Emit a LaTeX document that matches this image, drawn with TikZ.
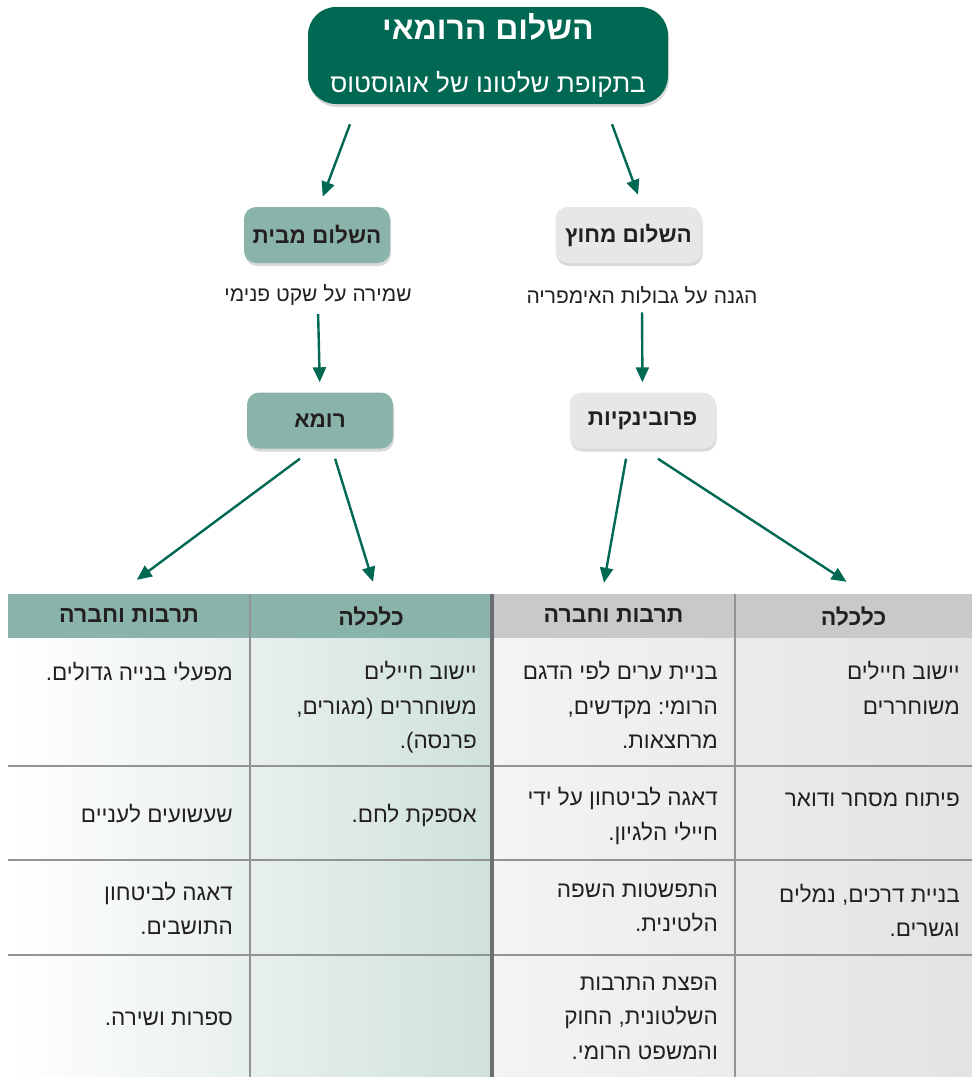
\documentclass[tikz,border=0pt]{standalone}
\usepackage{fontspec}
\setmainfont[Script=Hebrew]{Liberation Sans}
\TeXXeTstate=1
\frenchspacing
\usetikzlibrary{arrows.meta}
\usetikzlibrary{shadows}
\definecolor{romegreen}{HTML}{006853}
\definecolor{sage}{HTML}{8AB4AA}
\definecolor{paleg}{HTML}{E6E7E8}
\definecolor{hdrgray}{HTML}{C8C9CB}
\definecolor{ink}{HTML}{231F20}
\definecolor{gridg}{HTML}{929395}
\definecolor{divg}{HTML}{6D6E71}
\definecolor{sagelt}{HTML}{D0E1DC}
\definecolor{graylt}{HTML}{E2E3E5}
\newcommand{\heb}[1]{\beginR#1\endR}
\newcommand{\cellstrut}{\rule{0pt}{19pt}}

\begin{document}
\begin{tikzpicture}[x=1pt,y=-1pt]
		\tikzset{
			box/.style={rounded corners=12pt, minimum width=146pt, minimum height=56pt, inner sep=0pt, text=ink, font=\bfseries\fontsize{22.5}{26}\selectfont, drop shadow={opacity=0.3, shadow xshift=1pt, shadow yshift=-3pt}},
			inbox/.style={box, fill=sage},
			outbox/.style={box, fill=paleg},
			topbox/.style={rounded corners=28pt, minimum width=360pt, minimum height=97pt, fill=romegreen, text=white, align=center, drop shadow={opacity=0.3, shadow xshift=1pt, shadow yshift=-3pt}},
			note/.style={text=ink, font=\fontsize{21}{24}\selectfont},
			arr/.style={romegreen, line width=2.4pt, -{Triangle[length=15pt,width=13pt]}},
			hdr/.style={minimum width=#1, minimum height=44pt, inner sep=0pt, text=ink, font=\bfseries\fontsize{23}{26}\selectfont},
			cell/.style={anchor=north east, inner sep=0pt, align=right, text=ink, font=\fontsize{22.5}{34.5}\selectfont, execute at begin node=\cellstrut},
			gridline/.style={gridg, line width=1.2pt},
		}
		\useasboundingbox (0,0) rectangle (972,1077);
		\node[topbox] (top) at (488,55.5) {{\bfseries\fontsize{32}{38}\selectfont\heb{השלום הרומאי}}\\[30pt]{\fontsize{26}{30}\selectfont\heb{בתקופת שלטונו של אוגוסטוס}}};
		\node[inbox] (inner) at (317,235) {\heb{השלום מבית}};
		\node[outbox] (outer) at (628.5,235) {\heb{השלום מחוץ}};
		\node[note] (innote) at (318,295) {\heb{שמירה על שקט פנימי}};
		\node[note] (outnote) at (642,295) {\heb{הגנה על גבולות האימפריה}};
		\node[inbox] (rome) at (320,420.5) {\heb{רומא}};
		\node[outbox] (prov) at (642.5,420.5) {\heb{פרובינקיות}};
		\shade[left color=white, right color=sagelt] (8,638) rectangle (492,1077);
		\shade[left color=white!60!graylt, right color=graylt] (492,638) rectangle (972,1077);
		\node[hdr=242pt, fill=sage] (h4) at (129,616) {\heb{תרבות וחברה}};
		\node[hdr=242pt, fill=sage] (h3) at (371,616) {\heb{כלכלה}};
		\node[hdr=243pt, fill=hdrgray] (h2) at (613.5,616) {\heb{תרבות וחברה}};
		\node[hdr=237pt, fill=hdrgray] (h1) at (853.5,616) {\heb{כלכלה}};
		\foreach \y in {766,860,955}
			\draw[gridline] (8,\y) -- (972,\y);
		\foreach \x in {250,735}
			\draw[gridline] (\x,594) -- (\x,1077);
		\draw[divg, line width=4pt] (492,594) -- (492,1077);
		\node[cell] (c11) at (960,661) {\heb{יישוב חיילים}\\\heb{משוחררים}};
		\node[cell] (c12) at (960,787) {\heb{פיתוח מסחר ודואר}};
		\node[cell] (c13) at (960,883.5) {\heb{בניית דרכים, נמלים}\\\heb{וגשרים.}};
		\node[cell] (c21) at (718,661) {\heb{בניית ערים לפי הדגם}\\\heb{הרומי: מקדשים,}\\\heb{מרחצאות.}};
		\node[cell] (c22) at (718,787) {\heb{דאגה לביטחון על ידי}\\\heb{חיילי הלגיון.}};
		\node[cell] (c23) at (718,883.5) {\heb{התפשטות השפה}\\\heb{הלטינית.}};
		\node[cell] (c24) at (718,976.5) {\heb{הפצת התרבות}\\\heb{השלטונית, החוק}\\\heb{והמשפט הרומי.}};
		\node[cell] (c31) at (477,661) {\heb{יישוב חיילים}\\\heb{משוחררים (מגורים,}\\\heb{פרנסה).}};
		\node[cell] (c32) at (477,803.5) {\heb{אספקת לחם.}};
		\node[cell] (c41) at (233,661) {\heb{מפעלי בנייה גדולים.}};
		\node[cell] (c42) at (233,803.5) {\heb{שעשועים לעניים}};
		\node[cell] (c43) at (233,881.5) {\heb{דאגה לביטחון}\\\heb{התושבים.}};
		\node[cell] (c44) at (233,1006.5) {\heb{ספרות ושירה.}};
		\draw[arr, shorten <=21.4pt, shorten >=10.7pt] ([xshift=-130.5pt]top.south) -- ([xshift=2pt]inner.north);
		\draw[arr, shorten <=21.3pt, shorten >=12.8pt] ([xshift=116.6pt]top.south) -- ([xshift=14pt]outer.north);
		\draw[arr, shorten <=5pt, shorten >=10pt] (innote.south) -- (rome.north);
		\draw[arr, shorten <=5pt, shorten >=10pt] (outnote.south) -- (prov.north);
		\draw[arr, shorten <=16.7pt, shorten >=23.4pt] ([xshift=-6.6pt]rome.south) -- ([xshift=-11pt]h4.north);
		\draw[arr, shorten <=10.5pt, shorten >=12.5pt] ([xshift=12pt]rome.south) -- ([xshift=5.7pt]h3.north);
		\draw[arr, shorten <=10.2pt, shorten >=11.2pt] ([xshift=-14.7pt]prov.south) -- ([xshift=-11.5pt]h2.north);
		\draw[arr, shorten <=18.4pt, shorten >=22pt] (prov.south) -- ([xshift=11.5pt]h1.north);
\end{tikzpicture}
\end{document}
